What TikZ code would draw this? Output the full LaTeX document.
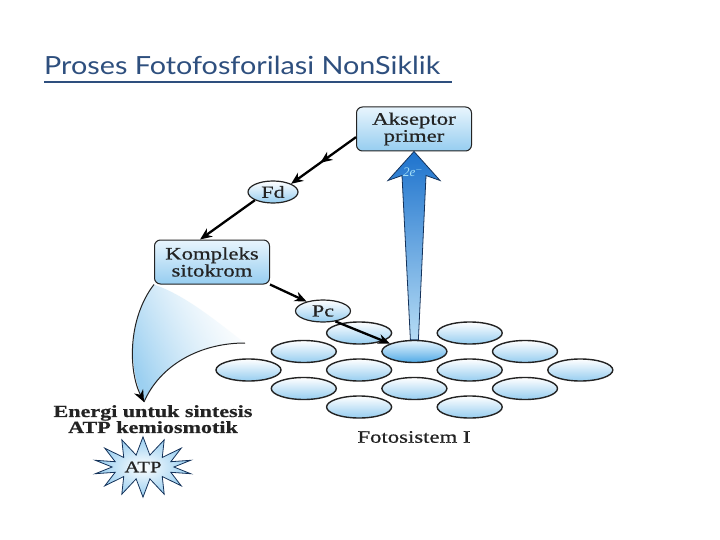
\documentclass[tikz,border=0pt]{standalone}
\usepackage{fontspec}
\setmainfont{Liberation Serif}
\newfontfamily\titlefont[FakeStretch=1.15]{Lato}
\newfontfamily\labelfont[FakeStretch=1.3,FakeBold=0.6]{Liberation Serif}
\usetikzlibrary{shapes.geometric,shapes.symbols,arrows.meta,calc,fadings,decorations.markings}

\definecolor{titleblue}{RGB}{46,79,126}
\definecolor{paleblue}{RGB}{232,245,253}
\definecolor{skyblue}{RGB}{150,205,240}
\definecolor{deepblue}{RGB}{30,115,205}
\definecolor{coreblue}{RGB}{80,170,230}
\definecolor{inkgray}{RGB}{35,35,35}
\definecolor{navyedge}{RGB}{20,50,90}

\tikzset{
  carrier/.style={draw=inkgray, line width=1pt, rounded corners=6pt,
    top color=paleblue, bottom color=skyblue, minimum width=115pt,
    minimum height=44pt, align=center, text=inkgray,
    font=\labelfont\fontsize{17.5}{17}\selectfont},
  mobile/.style={ellipse, draw=inkgray, line width=1.2pt, top color=white,
    bottom color=skyblue, minimum height=22pt, inner sep=0pt, text=inkgray,
    font=\labelfont\fontsize{17}{17}\selectfont},
  disc/.style={ellipse, draw=inkgray, line width=1.4pt, top color=white,
    bottom color=skyblue, minimum width=65pt, minimum height=22pt, inner sep=0pt},
  flow/.style={-{Stealth[length=12pt,width=10pt]}, line width=2.3pt},
  midhead/.style={postaction={decorate}, decoration={markings,
    mark=at position 0.55 with {\arrow{Stealth[length=12pt,width=10pt]}}}},
}

\begin{document}
\begin{tikzpicture}[x=1pt,y=-1pt]
  \useasboundingbox (0,0) rectangle (720,540);
  \fill[white] (0,0) rectangle (720,540);

  % Title
  \node[anchor=base west, inner sep=0pt, text=titleblue,
    font=\titlefont\fontsize{25}{28}\selectfont] (title) at (44,75)
    {Proses Fotofosforilasi NonSiklik};
  \draw[titleblue, line width=2.2pt] ($(title.base west)+(0,7)$) -- ++(408,0);

  % Fotosistem I
  \foreach \k/\r in {2/0,4/0,1/1,5/1,0/2,2/2,4/2,6/2,1/3,3/3,5/3,2/4,4/4}
    \node[disc] (d\k\r) at ({248.5+55.3*\k},{333+18.5*\r}) {};
  \node[disc, top color=paleblue, bottom color=coreblue] (p700) at ({248.5+55.3*3},351.5) {};
  \node[font=\labelfont\fontsize{17.5}{17}\selectfont, text=inkgray] (ps1) at (414,437) {Fotosistem I};

  % Carriers
  \node[carrier] (akseptor) at (414,129) {Akseptor\\primer};
  \node[mobile, minimum width=50pt] (fd) at (273,192) {Fd};
  \node[carrier] (kompleks) at (212,262) {Kompleks\\sitokrom};
  \node[mobile, minimum width=55pt] (pc) at (323,311) {Pc};

  % Excitation arrow
  \shade[top color=deepblue, middle color=deepblue!80!skyblue, bottom color=skyblue!70,
    draw=navyedge, line width=0.8pt]
    (akseptor.south) -- ++(26,29) -- ++(-14,-5) -- ($(p700.north)+(4,0)$)
    -- ($(p700.north)+(-4,0)$) -- ($(akseptor.south)+(-12,24)$) -- ++(-14,5) -- cycle;
  \node[font=\itshape\fontsize{13}{13}\selectfont, text=cyan!35] (elec) at (413,172) {2e$^{-}$};

  % Electron flow
  \draw[flow, midhead] (akseptor.188) -- (fd.north east);
  \draw[flow] (fd.south west) -- (kompleks.118);
  \draw[flow] (kompleks.south east) -- (pc.150);
  \draw[flow] (pc.-40) -- (p700.162);

  % Energy for ATP
  \node[anchor=north, align=center, text=inkgray, inner sep=1pt,
    font=\labelfont\bfseries\fontsize{17}{16}\selectfont] (energi) at (153,404)
    {Energi untuk sintesis\\ATP kemiosmotik};
  \coordinate (wedgetip) at ($(energi.north)+(-9,-2)$);
  \shade[left color=skyblue, right color=skyblue!45, path fading=east, fading angle=35]
    (kompleks.south west) .. controls (128,318) and (128,370) .. (wedgetip)
    .. controls (160,365) and (200,343) .. (245,343)
    .. controls (215,320) and (185,295) .. (kompleks.south west);
  \draw[inkgray, line width=1pt] (245,343) .. controls (200,343) and (160,365) .. (wedgetip);
  \draw[inkgray, line width=1pt, -{Stealth[length=12pt,width=10pt,black]}]
    (kompleks.south west) .. controls (128,318) and (128,370) .. (wedgetip);

  \node[starburst, starburst points=14, starburst point height=18pt,
    random starburst=0, draw=navyedge, line width=0.8pt, shading=radial,
    inner color=white, outer color=skyblue, minimum width=97pt, minimum height=57pt,
    text=inkgray, font=\labelfont\fontsize{16}{16}\selectfont] (atp) at (143,467) {ATP};
\end{tikzpicture}
\end{document}
